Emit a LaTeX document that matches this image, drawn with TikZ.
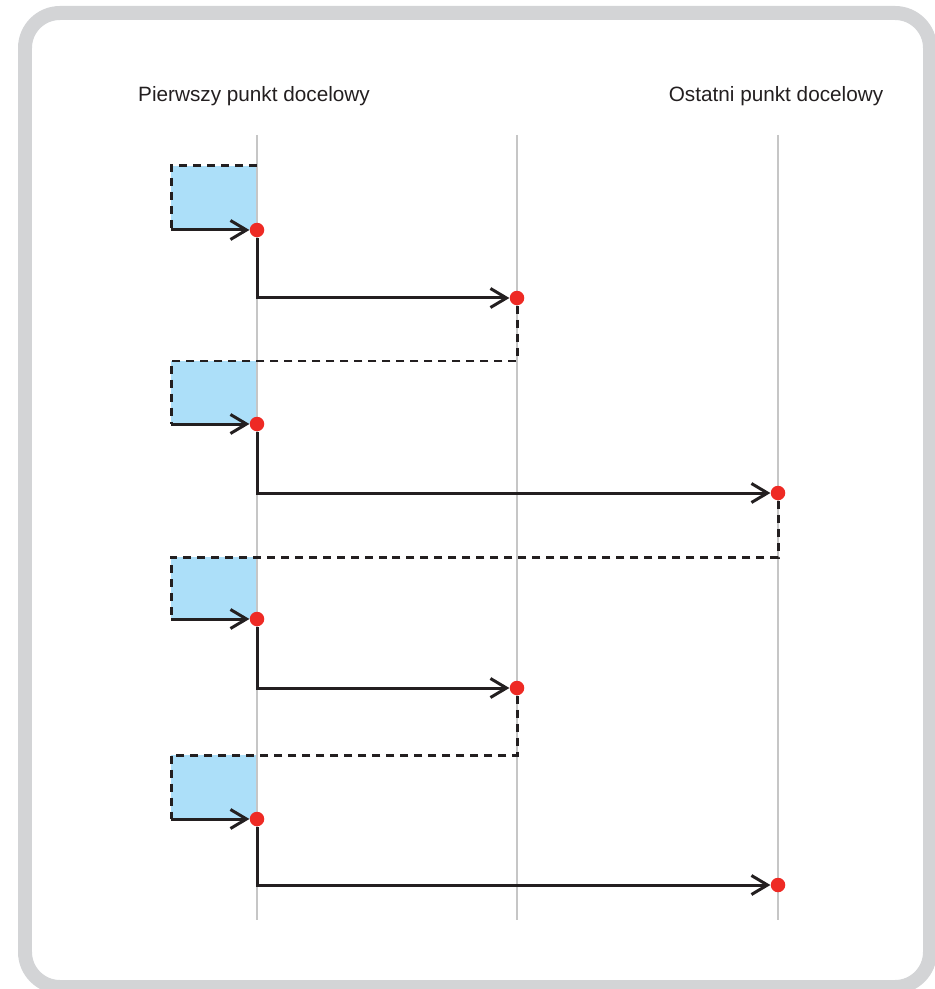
\documentclass[tikz,border=0pt]{standalone}
\usepackage{fontspec}
\setmainfont{Liberation Sans}
\usetikzlibrary{arrows.meta}
\definecolor{boxblue}{HTML}{ACDFF9}
\definecolor{dotred}{HTML}{EE2A24}
\definecolor{ink}{HTML}{231F20}
\definecolor{guidegray}{HTML}{C6C6C6}
\definecolor{framegray}{HTML}{D3D4D6}
\newcommand{\xl}{171}
\newcommand{\xf}{257}
\newcommand{\xm}{517}
\newcommand{\xr}{778}
\newcommand{\stage}[5]{
	\coordinate (t#1) at (\xl,#2);
	\coordinate (s#1) at (\xl,#3);
	\fill[box] (t#1) rectangle (\xf-1,#3);
	\node[dot] (p#1) at (\xf,#3) {};
	\node[dot] (q#1) at (#5,#4) {};
	\draw[move] (s#1) -- (p#1);
	\draw[move] (p#1) |- (q#1);
	}

\begin{document}
\begin{tikzpicture}[
      x=0.02cm, y=-0.02cm, %one unit is one pixel
      frame/.style={framegray,line width=0.28cm,rounded corners=0.7cm},
      guide/.style={guidegray,line width=0.045cm},
      box/.style={boxblue},
      dot/.style={circle,fill=dotred,inner sep=0pt,minimum size=0.29cm},
      move/.style={ink,line width=0.06cm,-{Straight Barb[length=0.32cm,width=0.38cm]}},
      back/.style={ink,line width=0.06cm,dash pattern=on 0.16cm off 0.12cm},
      title/.style={anchor=base,text=ink,font=\fontsize{11.8}{14}\selectfont}
    ]
    \useasboundingbox (0,0) rectangle (934,989);
    %Frame around everything
    \draw[frame] (25,13) rectangle (930,987);
    % Column titles
    \node[title] (first) at (254,102) {Pierwszy punkt docelowy};
    \node[title] (last) at (776,102) {Ostatni punkt docelowy};
    % Guide lines
    \foreach \x in {\xf,\xm,\xr}
      \draw[guide] (\x,135) -- (\x,920);
    % Draw the stages
    \stage{1}{166}{230}{298}{\xm};
    \stage{2}{361}{424}{493}{\xr};
    \stage{3}{557}{619}{688}{\xm};
    \stage{4}{755}{819}{885}{\xr};
    % Dashed returns
    \coordinate (g1) at (\xf,166);
    \draw[back] (g1) -- (t1) -- (s1);
    \draw[back] (q1) |- (t2) -- (s2);
    \draw[back] (q2) |- (t3) -- (s3);
    \draw[back] (q3) |- (t4) -- (s4);
    \end{tikzpicture}
\end{document}
